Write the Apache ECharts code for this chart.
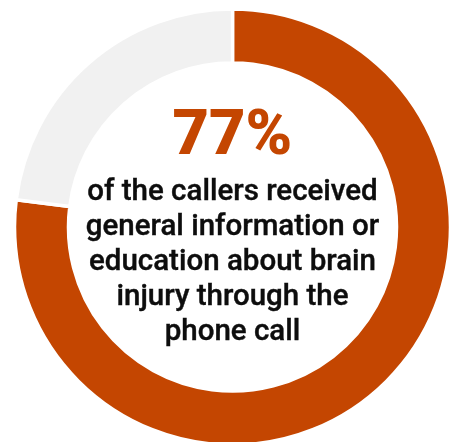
<!DOCTYPE html>
<html>
<head>
<meta charset="utf-8">
<script src="https://cdn.jsdelivr.net/npm/echarts@6/dist/echarts.min.js"></script>
<style>
  html, body { margin: 0; padding: 0; background: #ffffff; }
  #chart { width: 456px; height: 442px; }
</style>
</head>
<body>
<div id="chart"></div>
<script>
// Share of callers who received general information / education
const sliceNames = ['Received information', 'Did not'];
const sliceValues = [77, 23];
const sliceColors = ['#C44601', '#F1F1F1'];

const headline = '77%';
const captionLines = [
  'of the callers received',
  'general information or',
  'education about brain',
  'injury through the',
  'phone call'
];

const chart = echarts.init(document.getElementById('chart'), null, { renderer: 'canvas' });

const cx = 232.5, cy = 227;
const captionTop = 193;   // vertical middle of the first caption line
const captionStep = 35;   // spacing between caption lines

const textElements = [{
  type: 'text',
  x: cx,
  y: 138,
  style: {
    text: headline,
    fill: '#C44601',
    font: '900 63px Roboto',
    align: 'center',
    verticalAlign: 'middle'
  }
}].concat(captionLines.map((line, i) => ({
  type: 'text',
  x: cx,
  y: captionTop + i * captionStep,
  style: {
    text: line,
    fill: '#0d0d0d',
    font: '500 29.5px Roboto',
    align: 'center',
    verticalAlign: 'middle',
    stroke: '#0d0d0d',
    lineWidth: 0.4
  }
})));

chart.setOption({
  animation: false,
  backgroundColor: '#ffffff',
  series: [{
    type: 'pie',
    center: [cx, cy],
    radius: [164, 218],
    startAngle: 90,
    clockwise: true,
    silent: true,
    label: { show: false },
    labelLine: { show: false },
    itemStyle: { borderColor: '#ffffff', borderWidth: 3.5 },
    data: sliceNames.map((name, i) => ({
      name: name,
      value: sliceValues[i],
      itemStyle: { color: sliceColors[i] }
    }))
  }],
  graphic: textElements
});
</script>
</body>
</html>
